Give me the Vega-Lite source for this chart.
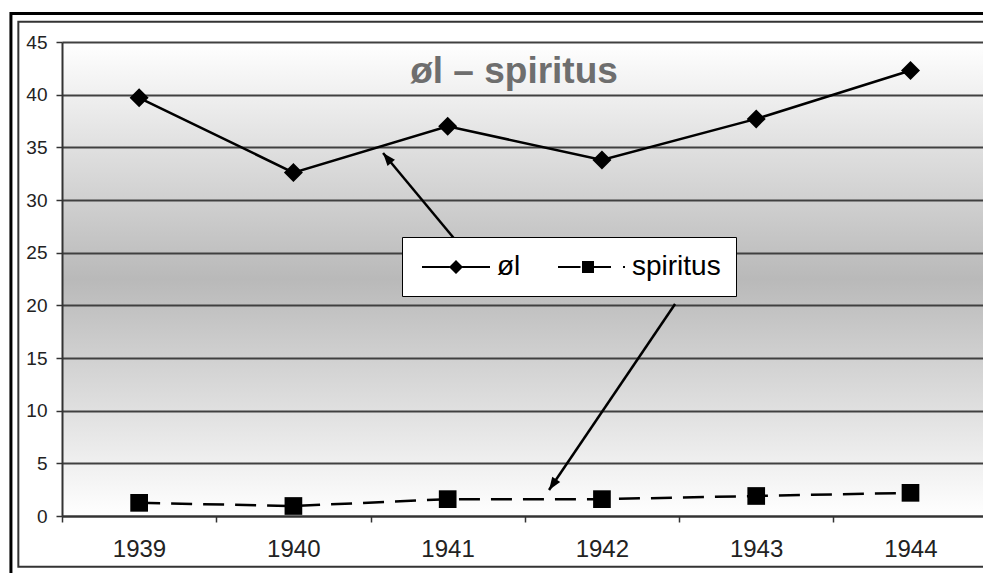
{
  "$schema": "https://vega.github.io/schema/vega-lite/v6.json",
  "width": 921,
  "height": 474,
  "autosize": {"type": "none"},
  "padding": {"left": 62, "top": 42, "right": 0, "bottom": 57},
  "background": "white",
  "config": {
    "font": "Liberation Sans",
    "view": {
      "stroke": null,
      "fill": {
        "gradient": "linear", "x1": 0, "y1": 0, "x2": 0, "y2": 1,
        "stops": [
          {"offset": 0, "color": "#ffffff"},
          {"offset": 0.5, "color": "#b9b9b9"},
          {"offset": 1, "color": "#ffffff"}
        ]
      }
    }
  },
  "datasets": {
    "consumption": [
      {"year": 1939, "series": "øl", "value": 39.7},
      {"year": 1940, "series": "øl", "value": 32.6},
      {"year": 1941, "series": "øl", "value": 37.0},
      {"year": 1942, "series": "øl", "value": 33.8},
      {"year": 1943, "series": "øl", "value": 37.7},
      {"year": 1944, "series": "øl", "value": 42.3},
      {"year": 1939, "series": "spiritus", "value": 1.25},
      {"year": 1940, "series": "spiritus", "value": 0.95},
      {"year": 1941, "series": "spiritus", "value": 1.6},
      {"year": 1942, "series": "spiritus", "value": 1.6},
      {"year": 1943, "series": "spiritus", "value": 1.9},
      {"year": 1944, "series": "spiritus", "value": 2.2}
    ],
    "arrows": [
      {"x": 1941.093, "y": 25.44, "x2": 1940.581, "y2": 34.46},
      {"x": 1942.474, "y": 20.13, "x2": 1941.657, "y2": 2.47}
    ]
  },
  "layer": [
    {
      "data": {"values": [{}]},
      "mark": {"type": "rect", "fill": "transparent", "stroke": "black", "strokeWidth": 3},
      "encoding": {
        "x": {"datum": 1938.169, "type": "quantitative", "scale": {"domain": [1938.5, 1944.47], "nice": false, "zero": false}},
        "x2": {"datum": 1944.9},
        "y": {"datum": 47.71, "type": "quantitative", "scale": {"domain": [0, 45], "nice": false}},
        "y2": {"datum": -7}
      }
    },
    {
      "data": {"values": [{}]},
      "mark": {"type": "rect", "fill": "transparent", "stroke": "#333333", "strokeWidth": 2},
      "encoding": {
        "x": {"datum": 1938.217, "type": "quantitative"},
        "x2": {"datum": 1944.9},
        "y": {"datum": 46.93, "type": "quantitative"},
        "y2": {"datum": -4.81}
      }
    },
    {
      "data": {"name": "consumption"},
      "transform": [{"filter": "datum.series === 'øl'"}],
      "mark": {"type": "line", "color": "black", "strokeWidth": 2.5},
      "encoding": {
        "x": {
          "field": "year", "type": "quantitative",
          "scale": {"domain": [1938.5, 1944.47], "nice": false, "zero": false},
          "axis": {
            "title": null, "grid": false,
            "values": [1938.5, 1939.5, 1940.5, 1941.5, 1942.5, 1943.5],
            "labelExpr": "format(datum.value + 0.5, 'd')",
            "labelOffset": 77, "labelFlush": false, "labelOverlap": false, "labelBound": false,
            "labelFontSize": 24, "labelColor": "#222222", "labelPadding": 15,
            "domainColor": "#333333", "domainWidth": 2,
            "tickColor": "#333333", "tickWidth": 1.5, "tickSize": 6
          }
        },
        "y": {
          "field": "value", "type": "quantitative",
          "scale": {"domain": [0, 45], "nice": false},
          "axis": {
            "title": null,
            "values": [0, 5, 10, 15, 20, 25, 30, 35, 40, 45],
            "grid": true, "gridColor": "#404040", "gridWidth": 2,
            "labelFontSize": 19, "labelColor": "#222222", "labelPadding": 9,
            "domainColor": "#333333", "domainWidth": 2,
            "tickColor": "#333333", "tickWidth": 1.5, "tickSize": 6
          }
        }
      }
    },
    {
      "data": {"name": "consumption"},
      "transform": [{"filter": "datum.series === 'spiritus'"}],
      "mark": {"type": "line", "color": "black", "strokeWidth": 2.5, "strokeDash": [21, 11]},
      "encoding": {
        "x": {"field": "year", "type": "quantitative"},
        "y": {"field": "value", "type": "quantitative"}
      }
    },
    {
      "data": {"name": "consumption"},
      "transform": [{"filter": "datum.series === 'øl'"}],
      "mark": {"type": "point", "filled": true, "color": "black", "opacity": 1, "size": 361, "shape": "diamond"},
      "encoding": {
        "x": {"field": "year", "type": "quantitative"},
        "y": {"field": "value", "type": "quantitative"}
      }
    },
    {
      "data": {"name": "consumption"},
      "transform": [{"filter": "datum.series === 'spiritus'"}],
      "mark": {"type": "point", "filled": true, "color": "black", "opacity": 1, "size": 313, "shape": "square"},
      "encoding": {
        "x": {"field": "year", "type": "quantitative"},
        "y": {"field": "value", "type": "quantitative"}
      }
    },
    {
      "data": {"name": "consumption"},
      "mark": {"type": "point", "filled": true, "color": "black", "size": 0},
      "encoding": {
        "x": {"field": "year", "type": "quantitative"},
        "y": {"field": "value", "type": "quantitative"},
        "shape": {
          "field": "series", "type": "nominal",
          "scale": {
            "domain": ["øl", "spiritus"],
            "range": [
              "M-2.43,-0.08L-0.45,-0.08L-0.45,0.08L-2.43,0.08Z M0.45,-0.08L2.43,-0.08L2.43,0.08L0.45,0.08Z M0,-0.5L0.5,0L0,0.5L-0.5,0Z",
              "M-2.357,-0.08L-0.75,-0.08L-0.75,0.08L-2.357,0.08Z M0.2,-0.08L1.429,-0.08L1.429,0.08L0.2,0.08Z M2.286,-0.08L2.429,-0.08L2.429,0.08L2.286,0.08Z M-0.643,-0.429L0.214,-0.429L0.214,0.429L-0.643,0.429Z"
            ]
          },
          "legend": {
            "title": null,
            "orient": "none", "legendX": 340, "legendY": 195,
            "direction": "horizontal",
            "fillColor": "white", "strokeColor": "black",
            "padding": 15, "columnPadding": 31,
            "labelFontSize": 28, "labelColor": "black", "labelOffset": 26,
            "symbolSize": 784, "symbolOffset": 24,
            "symbolFillColor": "black", "symbolStrokeColor": "black", "symbolStrokeWidth": 2, "symbolOpacity": 1,
            "encode": {
              "legend": {"update": {"strokeWidth": {"value": 1.5}}}
            }
          }
        }
      }
    },
    {
      "data": {"name": "arrows"},
      "mark": {"type": "rule", "color": "black", "strokeWidth": 2.5},
      "encoding": {
        "x": {"field": "x", "type": "quantitative"},
        "x2": {"field": "x2"},
        "y": {"field": "y", "type": "quantitative"},
        "y2": {"field": "y2"}
      }
    },
    {
      "data": {"values": [{"x": 1940.581, "y": 34.46}]},
      "mark": {"type": "point", "filled": true, "color": "black", "opacity": 1, "size": 256, "angle": 320.25, "shape": "M0,0L-0.6,1.6L0.6,1.6Z"},
      "encoding": {
        "x": {"field": "x", "type": "quantitative"},
        "y": {"field": "y", "type": "quantitative"}
      }
    },
    {
      "data": {"values": [{"x": 1941.657, "y": 2.47}]},
      "mark": {"type": "point", "filled": true, "color": "black", "opacity": 1, "size": 256, "angle": 214.1, "shape": "M0,0L-0.6,1.6L0.6,1.6Z"},
      "encoding": {
        "x": {"field": "x", "type": "quantitative"},
        "y": {"field": "y", "type": "quantitative"}
      }
    },
    {
      "data": {"values": [{"label": "øl – spiritus"}]},
      "mark": {"type": "text", "fontSize": 37, "fontWeight": "bold", "color": "#6e6e6e", "align": "center", "baseline": "middle"},
      "encoding": {
        "text": {"field": "label"},
        "x": {"datum": 1941.43, "type": "quantitative"},
        "y": {"datum": 42.15, "type": "quantitative"}
      }
    }
  ]
}
